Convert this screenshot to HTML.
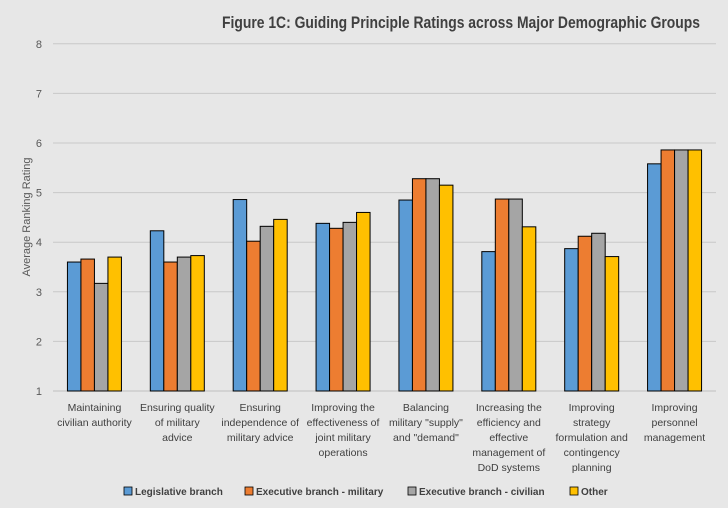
<!DOCTYPE html>
<html><head><meta charset="utf-8"><style>
html,body{margin:0;background:#e7e7e7;width:728px;height:508px;overflow:hidden;}
svg{display:block;}
svg text{font-family:"Liberation Sans",Calibri,sans-serif;}
</style></head><body>
<svg width="728" height="508" xmlns="http://www.w3.org/2000/svg">
<rect width="728" height="508" fill="#e7e7e7"/>
<text x="222" y="28" textLength="478" lengthAdjust="spacingAndGlyphs" font-size="17" font-weight="bold" fill="#404040">Figure 1C: Guiding Principle Ratings across Major Demographic Groups</text>
<g id="grid"></g><g id="bars"></g><g id="xlabels"></g>
<text transform="translate(30,217) rotate(-90)" text-anchor="middle" font-size="11" fill="#595959">Average Ranking Rating</text>
<g id="legend"></g>
</svg>
<script>
const categories=[["Maintaining","civilian authority"],["Ensuring quality","of military","advice"],["Ensuring","independence of","military advice"],["Improving the","effectiveness of","joint military","operations"],["Balancing","military \"supply\"","and \"demand\""],["Increasing the","efficiency and","effective","management of","DoD systems"],["Improving","strategy","formulation and","contingency","planning"],["Improving","personnel","management"]];
const seriesNames=["Legislative branch","Executive branch - military","Executive branch - civilian","Other"];
const legislative=[3.6,4.23,4.86,4.38,4.85,3.81,3.87,5.58];
const military=[3.66,3.6,4.02,4.28,5.28,4.87,4.12,5.86];
const civilian=[3.17,3.7,4.32,4.4,5.28,4.87,4.18,5.86];
const other=[3.7,3.73,4.46,4.6,5.15,4.31,3.71,5.86];
const yTicks=[1,2,3,4,5,6,7,8];
const colors=["#5b9bd5","#ed7d31","#a5a5a5","#ffc000"];
const series=[legislative,military,civilian,other];
const NS="http://www.w3.org/2000/svg";
const x0=53,x1=716,yBase=391,unit=49.6;
const y=v=>yBase-(v-1)*unit;
const band=(x1-x0)/categories.length;
const bw=13.5;
function mk(tag,attrs,parent){const e=document.createElementNS(NS,tag);for(const k in attrs)e.setAttribute(k,attrs[k]);parent.appendChild(e);return e;}
const grid=document.getElementById('grid');
yTicks.forEach(t=>{
  const l=mk('line',{x1:x0,x2:x1,y1:y(t),y2:y(t),stroke:t===1?'#bfbfbf':'#c8c8c8','stroke-width':1},grid);
  
  
  const tx=mk('text',{x:42,y:y(t)+4,'text-anchor':'end','font-size':11,fill:'#595959'},grid);
  tx.textContent=t;
  
  
});
const bars=document.getElementById('bars');
categories.forEach((c,i)=>{
  const cx=x0+band*(i+0.5);
  series.forEach((s,j)=>{
    const bx=cx-2*bw+j*bw;
    const r=mk('rect',{x:bx,y:y(s[i]),width:bw,height:yBase-y(s[i]),fill:colors[j],stroke:'#000','stroke-width':1},bars);
    
    
  });
  const t=mk('text',{x:cx,y:411,'text-anchor':'middle','font-size':10.5,fill:'#404040'},document.getElementById('xlabels'));
  
  
  c.forEach((line,k)=>{const ts=mk('tspan',{x:cx,dy:k===0?0:15},t);ts.textContent=line;});
});
const leg=document.getElementById('legend');
const lx=[124,245,408,570];
seriesNames.forEach((n,j)=>{
  const g=mk('g',{},leg);
  
  
  mk('rect',{x:lx[j],y:487,width:8,height:8,fill:colors[j],stroke:'#000','stroke-width':0.8},g);
  const t=mk('text',{x:lx[j]+11,y:495,'font-size':10,'font-weight':'bold',fill:'#404040'},g);
  t.textContent=n;
});
</script>
</body></html>
